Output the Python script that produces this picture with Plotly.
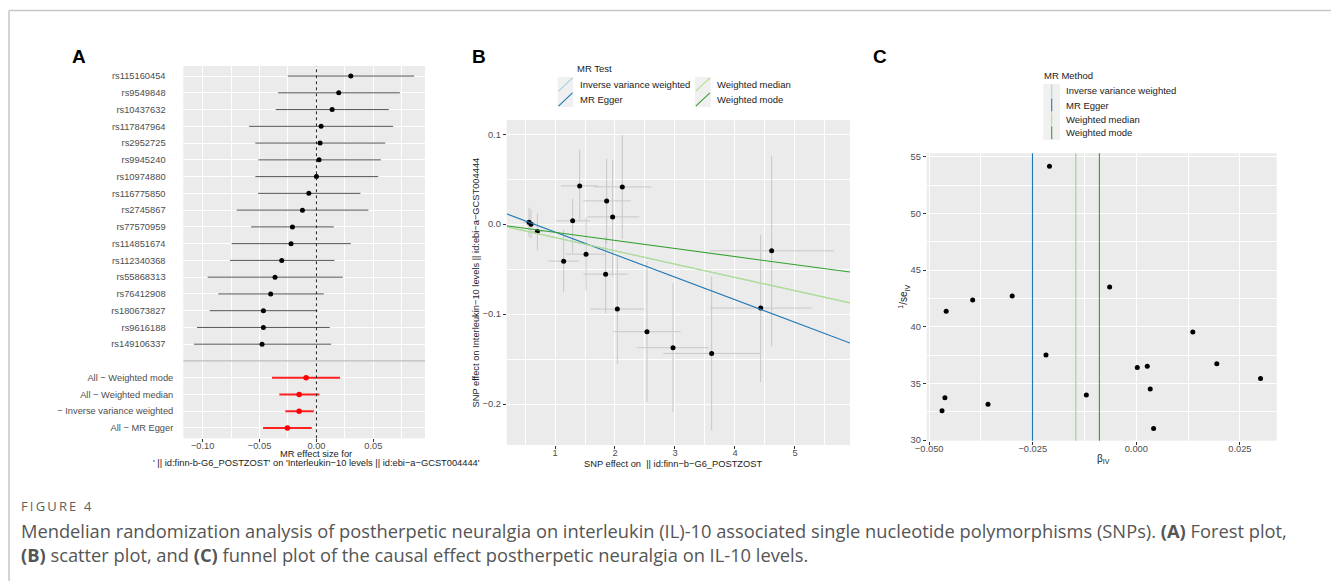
import plotly.graph_objects as go

W, H = 1331, 581

# ---------------- Panel A: forest plot data ----------------
snp_labels = ["rs115160454", "rs9549848", "rs10437632", "rs117847964", "rs2952725",
              "rs9945240", "rs10974880", "rs116775850", "rs2745867", "rs77570959",
              "rs114851674", "rs112340368", "rs55868313", "rs76412908", "rs180673827",
              "rs9616188", "rs149106337"]
snp_b = [0.0302, 0.0196, 0.0138, 0.0041, 0.0032, 0.0023, 0.0000, -0.0067, -0.0123,
         -0.0211, -0.0223, -0.0305, -0.0364, -0.0402, -0.0466, -0.0466, -0.0478]
snp_lo = [-0.0252, -0.0337, -0.0358, -0.0592, -0.0537, -0.0510, -0.0537, -0.0513, -0.0701,
          -0.0575, -0.0745, -0.0760, -0.0956, -0.0862, -0.0938, -0.1050, -0.1076]
snp_hi = [0.0859, 0.0733, 0.0636, 0.0674, 0.0604, 0.0566, 0.0543, 0.0387, 0.0457,
          0.0152, 0.0302, 0.0158, 0.0232, 0.0065, 0.0009, 0.0117, 0.0129]

method_labels = ["All \u2212 Weighted mode", "All \u2212 Weighted median",
                 "\u2212 Inverse variance weighted", "All \u2212 MR Egger"]
method_b = [-0.0091, -0.0152, -0.0152, -0.0255]
method_lo = [-0.0390, -0.0326, -0.0273, -0.0469]
method_hi = [0.0208, 0.0026, -0.0023, -0.0041]

forest_xticks = [-0.10, -0.05, 0.00, 0.05]
forest_xticktext = ["\u22120.10", "\u22120.05", "0.00", "0.05"]

# ---------------- Panel B: scatter plot data ----------------
sc_x = [0.567, 0.600, 0.706, 1.294, 1.411, 1.144, 1.517, 1.861, 1.961, 2.122, 1.844,
        2.039, 2.533, 2.967, 3.611, 4.428, 4.611]
sc_y = [0.0022, 0.0000, -0.0081, 0.0037, 0.0426, -0.0411, -0.0333, 0.0259, 0.0081, 0.0415,
        -0.0556, -0.0944, -0.1196, -0.1374, -0.1437, -0.0933, -0.0296]
sc_x_lo = [0.470, 0.520, 0.610, 1.011, 1.100, 0.889, 1.183, 1.472, 1.539, 1.650, 1.472,
           1.583, 1.972, 2.361, 2.806, 3.583, 3.583]
sc_x_hi = [0.667, 0.680, 0.806, 1.583, 1.720, 1.400, 1.844, 2.261, 2.406, 2.606, 2.222,
           2.489, 3.094, 3.567, 4.428, 5.278, 5.650]
sc_y_lo = [-0.0144, -0.0156, -0.0293, -0.0322, 0.0041, -0.0759, -0.0737, -0.0219, -0.0581,
           -0.0163, -0.0989, -0.1550, -0.1978, -0.2093, -0.2293, -0.1756, -0.1359]
sc_y_hi = [0.0185, 0.0167, 0.0122, 0.0285, 0.0826, -0.0063, 0.0074, 0.0726, 0.0715, 0.0993,
           -0.0137, -0.0350, -0.0415, -0.0656, -0.0581, -0.0119, 0.0763]

mr_methods = ["Inverse variance weighted", "MR Egger", "Weighted median", "Weighted mode"]
line_slope = [-0.0148, -0.0251, -0.0148, -0.0090]
line_intercept = [0.0, 0.0164, 0.0, 0.0]

# ---------------- Panel C: funnel plot data ----------------
funnel_b = [-0.0459, -0.0395, -0.02996, -0.00643, -0.0218, -0.0462, -0.0469, -0.0358,
            -0.01205, 0.00024, 0.00265, 0.00337, 0.00418, 0.01365, 0.01944, 0.0300, -0.02096]
funnel_inv_se = [41.37, 42.37, 42.72, 43.51, 37.51, 33.74, 32.60, 33.16, 33.98, 36.40,
                 36.52, 34.50, 31.02, 39.53, 36.73, 35.44, 54.15]
funnel_est = [-0.01462, -0.02506, -0.01462, -0.00891]

# ---------------- styles ----------------
method_colors = ["#a6cee3", "#1f78b4", "#b2df8a", "#33a02c"]
FONT = "Liberation Sans, Arial, sans-serif"
TICKC = "#4d4d4d"
PANEL = "#ebebeb"
TS = 9.3


def fx(p):
    return p / W


def fy(p):
    return 1 - p / H


fig = go.Figure()

# ---- Panel A traces ----
snp_rows = [22 - i for i in range(len(snp_labels))]
method_rows = [4 - i for i in range(len(method_labels))]

fig.add_trace(go.Scatter(
    x=snp_b, y=snp_rows, mode="markers", xaxis="x", yaxis="y",
    marker=dict(color="black", size=5),
    error_x=dict(type="data", symmetric=False,
                 array=[h - b for h, b in zip(snp_hi, snp_b)],
                 arrayminus=[b - l for b, l in zip(snp_b, snp_lo)],
                 color="#555555", thickness=1, width=0),
    showlegend=False, hoverinfo="skip"))
fig.add_trace(go.Scatter(
    x=method_b, y=method_rows, mode="markers", xaxis="x", yaxis="y",
    marker=dict(color="#ff0000", size=5.5),
    error_x=dict(type="data", symmetric=False,
                 array=[h - b for h, b in zip(method_hi, method_b)],
                 arrayminus=[b - l for b, l in zip(method_b, method_lo)],
                 color="#ff2020", thickness=2, width=0),
    showlegend=False, hoverinfo="skip"))

# ---- Panel B traces ----
xB = [0.195, 5.917]
fig.add_trace(go.Scatter(
    x=sc_x, y=sc_y, mode="markers", xaxis="x2", yaxis="y2",
    marker=dict(color="black", size=5),
    error_x=dict(type="data", symmetric=False,
                 array=[h - v for h, v in zip(sc_x_hi, sc_x)],
                 arrayminus=[v - l for v, l in zip(sc_x, sc_x_lo)],
                 color="#c8c8c8", thickness=1, width=0),
    error_y=dict(type="data", symmetric=False,
                 array=[h - v for h, v in zip(sc_y_hi, sc_y)],
                 arrayminus=[v - l for v, l in zip(sc_y, sc_y_lo)],
                 color="#c8c8c8", thickness=1, width=0),
    showlegend=False, hoverinfo="skip"))
for name, s, c, col in zip(mr_methods, line_slope, line_intercept, method_colors):
    fig.add_trace(go.Scatter(
        x=xB, y=[c + s * xv for xv in xB], mode="lines", xaxis="x2", yaxis="y2",
        line=dict(color=col, width=1.1), name=name, showlegend=False, hoverinfo="skip"))

# ---- Panel C traces ----
fig.add_trace(go.Scatter(
    x=funnel_b, y=funnel_inv_se, mode="markers", xaxis="x3", yaxis="y3",
    marker=dict(color="black", size=5), showlegend=False, hoverinfo="skip"))

shapes = []
for est, col in zip(funnel_est, method_colors):
    shapes.append(dict(type="line", xref="x3", yref="y3 domain", x0=est, x1=est, y0=0, y1=1,
                       line=dict(color=col, width=1.1)))

# zero line & separator for panel A
shapes.append(dict(type="line", xref="x", yref="y domain", x0=0, x1=0, y0=0, y1=1,
                   line=dict(color="#222222", width=1, dash="dot")))
shapes.append(dict(type="line", xref="x domain", yref="y", x0=0, x1=1, y0=5, y1=5,
                   line=dict(color="#bdbdbd", width=1.3)))

# frame
shapes.append(dict(type="line", xref="paper", yref="paper", x0=fx(9), x1=1, y0=fy(10.5), y1=fy(10.5),
                   line=dict(color="#c6c6c6", width=1.5)))
shapes.append(dict(type="line", xref="paper", yref="paper", x0=fx(9), x1=fx(9), y0=0, y1=fy(10.5),
                   line=dict(color="#c6c6c6", width=1.5)))

annotations = []


def txt(x, y, s, size=TS, color="#1a1a1a", xanchor="left", angle=0, family=FONT, yanchor="middle",
        align="left"):
    annotations.append(dict(x=fx(x), y=fy(y), xref="paper", yref="paper", text=s, showarrow=False,
                            xanchor=xanchor, yanchor=yanchor, textangle=angle, borderpad=0, align=align,
                            font=dict(size=size, color=color, family=family)))


# ---- Legend B (manual, ggplot style) ----
txt(575.7, 69, "MR Test", size=9.5)
legB_cols = [(557.7, 573.3, 579), (695.0, 710.7, 716)]
legB_rows = [(77.0, 92.0), (92.0, 107.0)]
for ci, (x0, x1, lx) in enumerate(legB_cols):
    shapes.append(dict(type="rect", xref="paper", yref="paper", x0=fx(x0), x1=fx(x1),
                       y0=fy(legB_rows[-1][1]), y1=fy(legB_rows[0][0]),
                       fillcolor="#f0f0f0", line=dict(width=0)))
    for ri, (r0, r1) in enumerate(legB_rows):
        k = ci * 2 + ri
        shapes.append(dict(type="line", xref="paper", yref="paper", x0=fx(x0 + 0.8), x1=fx(x1 - 0.8),
                           y0=fy(r1 - 0.8), y1=fy(r0 + 0.8), line=dict(color=method_colors[k], width=1.1)))
        txt(lx, (r0 + r1) / 2, mr_methods[k], size=9.5)

# ---- Legend C ----
txt(1043.3, 75.3, "MR Method", size=9.5)
legC_rows = [91.0, 105.0, 119.0, 132.7]
shapes.append(dict(type="rect", xref="paper", yref="paper", x0=fx(1043.3), x1=fx(1060),
                   y0=fy(139.7), y1=fy(84), fillcolor="#f0f0f0", line=dict(width=0)))
for k, rc in enumerate(legC_rows):
    shapes.append(dict(type="line", xref="paper", yref="paper", x0=fx(1051.7), x1=fx(1051.7),
                       y0=fy(rc + 6.5), y1=fy(rc - 6.5), line=dict(color=method_colors[k], width=1.1)))
    txt(1065, rc, mr_methods[k], size=9.5)

# ---- panel letters ----
for x, s in [(78.5, "A"), (478.5, "B"), (880, "C")]:
    txt(x, 57, "<b>%s</b>" % s, size=19, color="#000000", xanchor="center")

# ---- axis titles ----
txt(316, 453.5, "MR effect size for", size=9.3, xanchor="center")
txt(316, 462.5, "' || id:finn-b-G6_POSTZOST' on 'Interleukin\u221210 levels || id:ebi\u2212a\u2212GCST004444'",
    size=9.3, xanchor="center")
txt(673, 463.5, "SNP effect on  || id:finn\u2212b\u2212G6_POSTZOST", size=9.3, xanchor="center")
txt(475, 282.5, "SNP effect on Interleukin\u221210 levels || id:ebi\u2212a\u2212GCST004444", size=9.3,
    xanchor="center", angle=-90)
txt(904, 296.7, "<sup>1</sup>/se<sub>IV</sub>", size=10, xanchor="center", angle=-90)
txt(1103, 459, "\u03b2<sub>IV</sub>", size=10, xanchor="center")

# ---- caption ----
CAP = "Open Sans, Noto Sans, sans-serif"
txt(20, 505.5, "F\u2009I\u2009G\u2009U\u2009R\u2009E\u2009\u2009 4", size=13, color="#5f5f5f", family=CAP)
txt(20, 542, "Mendelian randomization analysis of postherpetic neuralgia on interleukin (IL)-10 associated "
             "single nucleotide polymorphisms (SNPs). <b>(A)</b> Forest plot,<br>"
             "<b>(B)</b> scatter plot, and <b>(C)</b> funnel plot of the causal effect postherpetic neuralgia "
             "on IL-10 levels.", size=18.3, color="#555555", family=CAP)

axis_common = dict(showline=False, zeroline=False, gridcolor="white", gridwidth=1.1, automargin=False,
                   tickfont=dict(size=TS, color=TICKC, family=FONT), ticks="outside",
                   ticklen=3, tickwidth=1, tickcolor="#333333")
minor_common = dict(showgrid=True, gridcolor="white", gridwidth=0.55, ticks="")

fig.update_layout(
    width=W, height=H, margin=dict(l=0, r=0, t=0, b=0, pad=0, autoexpand=False),
    paper_bgcolor="white", plot_bgcolor=PANEL, showlegend=False,
    font=dict(family=FONT),
    xaxis=dict(domain=[fx(183.3), fx(425)], range=[-0.117, 0.0954], tickvals=forest_xticks,
               ticktext=forest_xticktext, minor=dict(tickvals=[-0.075, -0.025, 0.025, 0.075], **minor_common),
               anchor="y", ticklabelstandoff=-4, **axis_common),
    yaxis=dict(domain=[fy(438.3), fy(66)], range=[0.385, 22.6],
               tickvals=snp_rows + method_rows,
               ticktext=[s + "\u00a0\u00a0\u00a0" for s in snp_labels] + method_labels,
               anchor="x", showline=False, zeroline=False, gridcolor="white", gridwidth=1.1, automargin=False,
               tickfont=dict(size=TS, color=TICKC, family=FONT), ticks="", ticklabelstandoff=9),
    xaxis2=dict(domain=[fx(506.7), fx(850)], range=[0.195, 5.917], tickvals=[1, 2, 3, 4, 5],
                minor=dict(tickvals=[0.5, 1.5, 2.5, 3.5, 4.5, 5.5], **minor_common), anchor="y2",
                ticklabelstandoff=-4, **axis_common),
    yaxis2=dict(domain=[fy(445), fy(120)], range=[-0.2456, 0.1159], tickvals=[0.1, 0.0, -0.1, -0.2],
                ticktext=["0.1", "0.0", "\u22120.1", "\u22120.2"],
                minor=dict(tickvals=[0.05, -0.05, -0.15], **minor_common), anchor="x2", **axis_common),
    xaxis3=dict(domain=[fx(926.7), fx(1276.7)], range=[-0.0506, 0.0339],
                tickvals=[-0.05, -0.025, 0.0, 0.025], ticktext=["\u22120.050", "\u22120.025", "0.000", "0.025"],
                minor=dict(tickvals=[-0.0375, -0.0125, 0.0125], **minor_common), anchor="y3",
                ticklabelstandoff=-4, **axis_common),
    yaxis3=dict(domain=[fy(440.7), fy(153.3)], range=[29.95, 55.3], tickvals=[30, 35, 40, 45, 50, 55],
                minor=dict(tickvals=[32.5, 37.5, 42.5, 47.5, 52.5], **minor_common), anchor="x3",
                **axis_common),
    shapes=shapes, annotations=annotations,
)

fig.write_html("out.html",
               post_script="document.body.style.margin='0';document.body.style.overflow='hidden';")
